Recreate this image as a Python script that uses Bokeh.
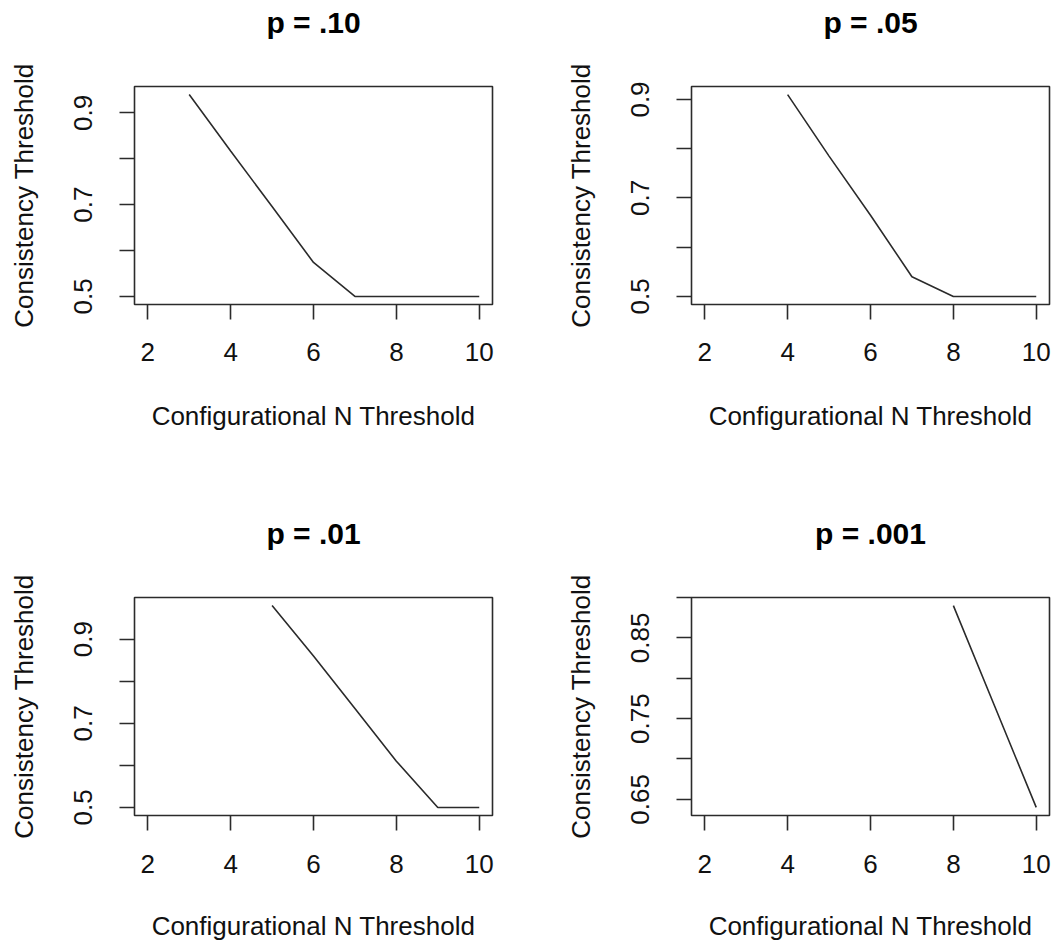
from bokeh.plotting import figure
from bokeh.layouts import column, row
from bokeh.models import Range1d, FixedTicker, Title
from bokeh.embed import file_html
from bokeh.resources import INLINE

# ---------------- data ----------------
titles = ["p = .10", "p = .05", "p = .01", "p = .001"]
x_label = "Configurational N Threshold"
y_label = "Consistency Threshold"

x_ticks = [2, 4, 6, 8, 10]
x_tick_labels = ["2", "4", "6", "8", "10"]
x_lim = [2, 10]

x_p10 = [3, 4, 5, 6, 7, 8, 9, 10]
y_p10 = [0.94, 0.817, 0.696, 0.574, 0.5, 0.5, 0.5, 0.5]

x_p05 = [4, 5, 6, 7, 8, 9, 10]
y_p05 = [0.91, 0.785, 0.665, 0.54, 0.5, 0.5, 0.5]

x_p01 = [5, 6, 7, 8, 9, 10]
y_p01 = [0.98, 0.86, 0.735, 0.61, 0.5, 0.5]

x_p001 = [8, 9, 10]
y_p001 = [0.89, 0.765, 0.64]

y_ticks_a = [0.5, 0.6, 0.7, 0.8, 0.9]
y_tick_labels_a = ["0.5", "", "0.7", "", "0.9"]
y_ticks_b = [0.65, 0.70, 0.75, 0.80, 0.85, 0.90]
y_tick_labels_b = ["0.65", "", "0.75", "", "0.85", ""]

# ---------------- style ----------------
FONT = "Liberation Sans"
INK = "#2b2b2b"


def expand(lo, hi):
    d = (hi - lo) * 0.04
    return lo - d, hi + d


def panel(title, xs, ys, yticks, ylabels, left, right, top, bottom,
          xt_standoff, xl_standoff):
    xlo, xhi = expand(*x_lim)
    ylo, yhi = expand(min(ys), max(ys))
    p = figure(frame_width=358, frame_height=218,
               min_border_left=left, min_border_right=right,
               min_border_top=top, min_border_bottom=bottom,
               x_range=Range1d(xlo, xhi), y_range=Range1d(ylo, yhi + 1e-9),
               output_backend="svg", toolbar_location=None, title=title)
    p.line(xs, ys, line_color=INK, line_width=1.6)

    p.grid.visible = False
    p.background_fill_color = "white"
    p.border_fill_color = "white"
    p.outline_line_color = INK
    p.outline_line_width = 1.6
    p.outline_line_alpha = 1.0

    # real title (outer) with an invisible spacer title between it and the frame
    p.title.text_font = FONT
    p.title.text_font_style = "bold"
    p.title.text_font_size = "30px"
    p.title.text_color = "black"
    p.title.align = "center"
    p.title.standoff = 0
    spacer = Title(text=" ", text_font_size="1px", standoff=45)
    p.add_layout(spacer, "above")

    for ax in (p.xaxis[0], p.yaxis[0]):
        ax.axis_line_color = None
        ax.major_tick_out = 15
        ax.major_tick_in = 0
        ax.minor_tick_line_color = None
        ax.major_tick_line_color = INK
        ax.major_tick_line_width = 1.6
        ax.major_label_text_font = FONT
        ax.major_label_text_font_size = "26px"
        ax.major_label_text_color = "#111111"
        ax.axis_label_text_font = FONT
        ax.axis_label_text_font_size = "26px"
        ax.axis_label_text_font_style = "normal"
        ax.axis_label_text_color = "#111111"

    xa = p.xaxis[0]
    xa.ticker = FixedTicker(ticks=x_ticks)
    xa.major_label_overrides = {t: l for t, l in zip(x_ticks, x_tick_labels)}
    xa.major_label_standoff = xt_standoff
    xa.axis_label = x_label
    xa.axis_label_standoff = xl_standoff

    ya = p.yaxis[0]
    ya.ticker = FixedTicker(ticks=yticks)
    ya.major_label_overrides = {t: l for t, l in zip(yticks, ylabels)}
    ya.major_label_orientation = "vertical"
    ya.major_label_standoff = 27
    ya.axis_label = y_label
    ya.axis_label_standoff = 33
    return p


p1 = panel(titles[0], x_p10, y_p10, y_ticks_a, y_tick_labels_a, 134, 64, 86, 207, 23, 37)
p2 = panel(titles[1], x_p05, y_p05, y_ticks_a, y_tick_labels_a, 135, 3, 86, 207, 23, 37)
p3 = panel(titles[2], x_p01, y_p01, y_ticks_a, y_tick_labels_a, 134, 64, 86, 130, 24, 35)
p4 = panel(titles[3], x_p001, y_p001, y_ticks_b, y_tick_labels_b, 135, 3, 86, 130, 24, 35)

layout = column(row(p1, p2), row(p3, p4))
open("out.html", "w").write(file_html(layout, INLINE))
